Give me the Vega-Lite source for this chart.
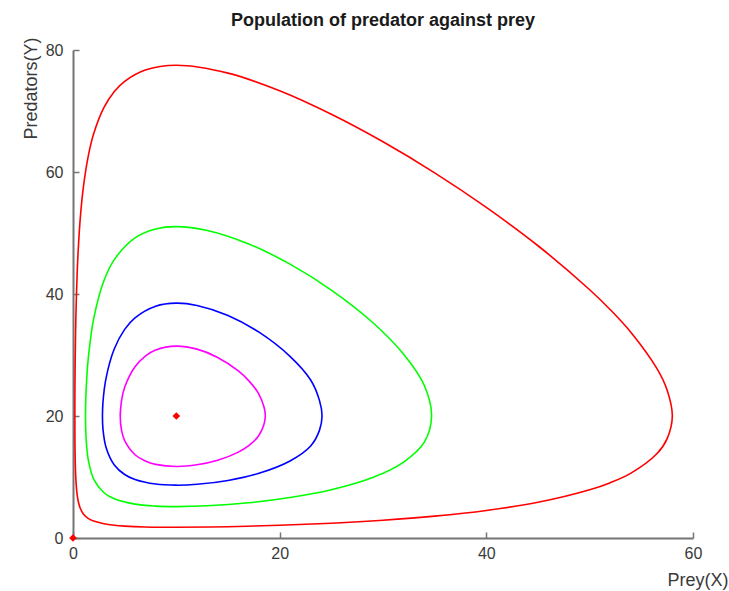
{
  "$schema": "https://vega.github.io/schema/vega-lite/v6.json",
  "width": 620,
  "height": 488,
  "autosize": "none",
  "padding": {"left": 73, "top": 50, "right": 36, "bottom": 53},
  "background": "white",
  "title": {"text": "Population of predator against prey", "font": "Liberation Sans", "fontSize": 18, "fontWeight": "bold", "color": "#1a1a1a", "anchor": "middle", "frame": "group", "offset": 7},
  "config": {
    "view": {"stroke": null},
    "axis": {
      "grid": false,
      "labelFlush": false,
      "domainColor": "#757575",
      "domainWidth": 2,
      "tickColor": "#757575",
      "tickWidth": 1.5,
      "tickSize": -6,
      "labelFont": "Liberation Sans",
      "labelFontSize": 16,
      "labelColor": "#3a3a3a",
      "titleFont": "Liberation Sans",
      "titleFontSize": 18,
      "titleFontWeight": "normal",
      "titleColor": "#3a3a3a"
    }
  },
  "datasets": {
    "orbits": [
      {"s": "red", "i": 1, "x": 0.18, "y": 20},
      {"s": "red", "i": 2, "x": 0.185, "y": 23.78},
      {"s": "red", "i": 3, "x": 0.2, "y": 27.32},
      {"s": "red", "i": 4, "x": 0.25, "y": 33.7},
      {"s": "red", "i": 5, "x": 0.3, "y": 37.72},
      {"s": "red", "i": 6, "x": 0.4, "y": 43.22},
      {"s": "red", "i": 7, "x": 0.5, "y": 47.05},
      {"s": "red", "i": 8, "x": 0.7, "y": 52.36},
      {"s": "red", "i": 9, "x": 1.0, "y": 57.48},
      {"s": "red", "i": 10, "x": 1.5, "y": 62.82},
      {"s": "red", "i": 11, "x": 2, "y": 66.27},
      {"s": "red", "i": 12, "x": 3, "y": 70.58},
      {"s": "red", "i": 13, "x": 4, "y": 73.2},
      {"s": "red", "i": 14, "x": 5, "y": 74.87},
      {"s": "red", "i": 15, "x": 7, "y": 76.72},
      {"s": "red", "i": 16, "x": 10, "y": 77.5},
      {"s": "red", "i": 17, "x": 15, "y": 76.21},
      {"s": "red", "i": 18, "x": 20, "y": 73.31},
      {"s": "red", "i": 19, "x": 25, "y": 69.46},
      {"s": "red", "i": 20, "x": 30, "y": 64.95},
      {"s": "red", "i": 21, "x": 35, "y": 59.86},
      {"s": "red", "i": 22, "x": 40, "y": 54.2},
      {"s": "red", "i": 23, "x": 45, "y": 47.91},
      {"s": "red", "i": 24, "x": 50, "y": 40.7},
      {"s": "red", "i": 25, "x": 52, "y": 37.42},
      {"s": "red", "i": 26, "x": 54, "y": 33.7},
      {"s": "red", "i": 27, "x": 56.5, "y": 27.81},
      {"s": "red", "i": 28, "x": 57.5, "y": 24.24},
      {"s": "red", "i": 29, "x": 58, "y": 20},
      {"s": "red", "i": 30, "x": 57.5, "y": 16.3},
      {"s": "red", "i": 31, "x": 56.5, "y": 13.81},
      {"s": "red", "i": 32, "x": 54, "y": 10.64},
      {"s": "red", "i": 33, "x": 52, "y": 9.07},
      {"s": "red", "i": 34, "x": 50, "y": 7.9},
      {"s": "red", "i": 35, "x": 45, "y": 5.85},
      {"s": "red", "i": 36, "x": 40, "y": 4.52},
      {"s": "red", "i": 37, "x": 35, "y": 3.59},
      {"s": "red", "i": 38, "x": 30, "y": 2.92},
      {"s": "red", "i": 39, "x": 25, "y": 2.43},
      {"s": "red", "i": 40, "x": 20, "y": 2.08},
      {"s": "red", "i": 41, "x": 15, "y": 1.85},
      {"s": "red", "i": 42, "x": 10, "y": 1.76},
      {"s": "red", "i": 43, "x": 7, "y": 1.81},
      {"s": "red", "i": 44, "x": 5, "y": 1.95},
      {"s": "red", "i": 45, "x": 4, "y": 2.09},
      {"s": "red", "i": 46, "x": 3, "y": 2.33},
      {"s": "red", "i": 47, "x": 2, "y": 2.77},
      {"s": "red", "i": 48, "x": 1.5, "y": 3.18},
      {"s": "red", "i": 49, "x": 1.0, "y": 3.95},
      {"s": "red", "i": 50, "x": 0.7, "y": 4.87},
      {"s": "red", "i": 51, "x": 0.5, "y": 6.06},
      {"s": "red", "i": 52, "x": 0.4, "y": 7.1},
      {"s": "red", "i": 53, "x": 0.3, "y": 8.95},
      {"s": "red", "i": 54, "x": 0.25, "y": 10.64},
      {"s": "red", "i": 55, "x": 0.2, "y": 14.12},
      {"s": "red", "i": 56, "x": 0.185, "y": 16.66},
      {"s": "red", "i": 57, "x": 0.18, "y": 20},
      {"s": "red", "i": 58, "x": 0.185, "y": 23.78},

      {"s": "green", "i": 1, "x": 1.21, "y": 20},
      {"s": "green", "i": 2, "x": 1.25, "y": 23.38},
      {"s": "green", "i": 3, "x": 1.35, "y": 26.72},
      {"s": "green", "i": 4, "x": 1.5, "y": 29.82},
      {"s": "green", "i": 5, "x": 2, "y": 35.92},
      {"s": "green", "i": 6, "x": 3, "y": 42.2},
      {"s": "green", "i": 7, "x": 4, "y": 45.64},
      {"s": "green", "i": 8, "x": 6, "y": 49.2},
      {"s": "green", "i": 9, "x": 8, "y": 50.66},
      {"s": "green", "i": 10, "x": 10, "y": 51.04},
      {"s": "green", "i": 11, "x": 13, "y": 50.41},
      {"s": "green", "i": 12, "x": 17, "y": 48.2},
      {"s": "green", "i": 13, "x": 21, "y": 44.89},
      {"s": "green", "i": 14, "x": 25, "y": 40.64},
      {"s": "green", "i": 15, "x": 29, "y": 35.33},
      {"s": "green", "i": 16, "x": 32, "y": 30.12},
      {"s": "green", "i": 17, "x": 34, "y": 25.0},
      {"s": "green", "i": 18, "x": 34.7, "y": 20},
      {"s": "green", "i": 19, "x": 34, "y": 15.71},
      {"s": "green", "i": 20, "x": 32, "y": 12.45},
      {"s": "green", "i": 21, "x": 29, "y": 9.91},
      {"s": "green", "i": 22, "x": 25, "y": 7.91},
      {"s": "green", "i": 23, "x": 21, "y": 6.63},
      {"s": "green", "i": 24, "x": 17, "y": 5.78},
      {"s": "green", "i": 25, "x": 13, "y": 5.28},
      {"s": "green", "i": 26, "x": 10, "y": 5.15},
      {"s": "green", "i": 27, "x": 8, "y": 5.23},
      {"s": "green", "i": 28, "x": 6, "y": 5.55},
      {"s": "green", "i": 29, "x": 4, "y": 6.42},
      {"s": "green", "i": 30, "x": 3, "y": 7.42},
      {"s": "green", "i": 31, "x": 2, "y": 9.66},
      {"s": "green", "i": 32, "x": 1.5, "y": 12.62},
      {"s": "green", "i": 33, "x": 1.35, "y": 14.52},
      {"s": "green", "i": 34, "x": 1.25, "y": 16.98},
      {"s": "green", "i": 35, "x": 1.21, "y": 20},
      {"s": "green", "i": 36, "x": 1.25, "y": 23.38},

      {"s": "blue", "i": 1, "x": 2.85, "y": 20},
      {"s": "blue", "i": 2, "x": 2.9, "y": 22.3},
      {"s": "blue", "i": 3, "x": 3.2, "y": 26.22},
      {"s": "blue", "i": 4, "x": 4, "y": 31.02},
      {"s": "blue", "i": 5, "x": 5, "y": 34.2},
      {"s": "blue", "i": 6, "x": 6, "y": 36.1},
      {"s": "blue", "i": 7, "x": 8, "y": 38.0},
      {"s": "blue", "i": 8, "x": 10, "y": 38.5},
      {"s": "blue", "i": 9, "x": 12, "y": 38.12},
      {"s": "blue", "i": 10, "x": 15, "y": 36.48},
      {"s": "blue", "i": 11, "x": 18, "y": 33.74},
      {"s": "blue", "i": 12, "x": 21, "y": 29.78},
      {"s": "blue", "i": 13, "x": 23, "y": 25.9},
      {"s": "blue", "i": 14, "x": 23.85, "y": 22.56},
      {"s": "blue", "i": 15, "x": 24.1, "y": 20},
      {"s": "blue", "i": 16, "x": 23.85, "y": 17.64},
      {"s": "blue", "i": 17, "x": 23, "y": 15.09},
      {"s": "blue", "i": 18, "x": 21, "y": 12.63},
      {"s": "blue", "i": 19, "x": 18, "y": 10.61},
      {"s": "blue", "i": 20, "x": 15, "y": 9.44},
      {"s": "blue", "i": 21, "x": 12, "y": 8.8},
      {"s": "blue", "i": 22, "x": 10, "y": 8.66},
      {"s": "blue", "i": 23, "x": 8, "y": 8.84},
      {"s": "blue", "i": 24, "x": 6, "y": 9.59},
      {"s": "blue", "i": 25, "x": 5, "y": 10.41},
      {"s": "blue", "i": 26, "x": 4, "y": 11.98},
      {"s": "blue", "i": 27, "x": 3.2, "y": 14.85},
      {"s": "blue", "i": 28, "x": 2.9, "y": 17.84},
      {"s": "blue", "i": 29, "x": 2.85, "y": 20},
      {"s": "blue", "i": 30, "x": 2.9, "y": 22.3},

      {"s": "magenta", "i": 1, "x": 4.57, "y": 20},
      {"s": "magenta", "i": 2, "x": 4.7, "y": 22.56},
      {"s": "magenta", "i": 3, "x": 5, "y": 24.7},
      {"s": "magenta", "i": 4, "x": 6, "y": 28.06},
      {"s": "magenta", "i": 5, "x": 7, "y": 29.82},
      {"s": "magenta", "i": 6, "x": 8, "y": 30.82},
      {"s": "magenta", "i": 7, "x": 10, "y": 31.46},
      {"s": "magenta", "i": 8, "x": 12, "y": 30.96},
      {"s": "magenta", "i": 9, "x": 14, "y": 29.6},
      {"s": "magenta", "i": 10, "x": 16, "y": 27.4},
      {"s": "magenta", "i": 11, "x": 17, "y": 25.8},
      {"s": "magenta", "i": 12, "x": 18, "y": 23.54},
      {"s": "magenta", "i": 13, "x": 18.61, "y": 20},
      {"s": "magenta", "i": 14, "x": 18, "y": 16.84},
      {"s": "magenta", "i": 15, "x": 17, "y": 15.14},
      {"s": "magenta", "i": 16, "x": 16, "y": 14.08},
      {"s": "magenta", "i": 17, "x": 14, "y": 12.74},
      {"s": "magenta", "i": 18, "x": 12, "y": 12.0},
      {"s": "magenta", "i": 19, "x": 10, "y": 11.72},
      {"s": "magenta", "i": 20, "x": 8, "y": 12.07},
      {"s": "magenta", "i": 21, "x": 7, "y": 12.62},
      {"s": "magenta", "i": 22, "x": 6, "y": 13.65},
      {"s": "magenta", "i": 23, "x": 5, "y": 15.96},
      {"s": "magenta", "i": 24, "x": 4.7, "y": 17.64},
      {"s": "magenta", "i": 25, "x": 4.57, "y": 20},
      {"s": "magenta", "i": 26, "x": 4.7, "y": 22.56}
    ],
    "equilibria": [
      {"x": 10, "y": 20},
      {"x": 0, "y": 0}
    ]
  },
  "layer": [
    {
      "data": {"name": "orbits"},
      "mark": {"type": "line", "interpolate": "catmull-rom", "strokeWidth": 1.6},
      "encoding": {
        "x": {"field": "x", "type": "quantitative", "scale": {"domain": [0, 60], "nice": false, "zero": false},
              "axis": {"values": [0, 20, 40, 60], "title": "Prey(X)", "labelPadding": 13, "titleX": 655, "titleY": 42, "titleAlign": "right", "titleBaseline": "middle"}},
        "y": {"field": "y", "type": "quantitative", "scale": {"domain": [0, 80], "nice": false, "zero": false},
              "axis": {"values": [0, 20, 40, 60, 80], "title": "Predators(Y)", "labelPadding": 16, "titleAngle": -90, "titleX": -42, "titleY": -13, "titleAlign": "right", "titleBaseline": "middle"}},
        "color": {"field": "s", "type": "nominal", "scale": {"domain": ["red", "green", "blue", "magenta"], "range": ["#ff0000", "#00ff00", "#0000ff", "#ff00ff"]}, "legend": null},
        "order": {"field": "i", "type": "quantitative"}
      }
    },
    {
      "data": {"name": "equilibria"},
      "mark": {"type": "point", "shape": "diamond", "filled": true, "size": 60, "color": "#ff0000", "opacity": 1},
      "encoding": {
        "x": {"field": "x", "type": "quantitative"},
        "y": {"field": "y", "type": "quantitative"}
      }
    }
  ]
}
